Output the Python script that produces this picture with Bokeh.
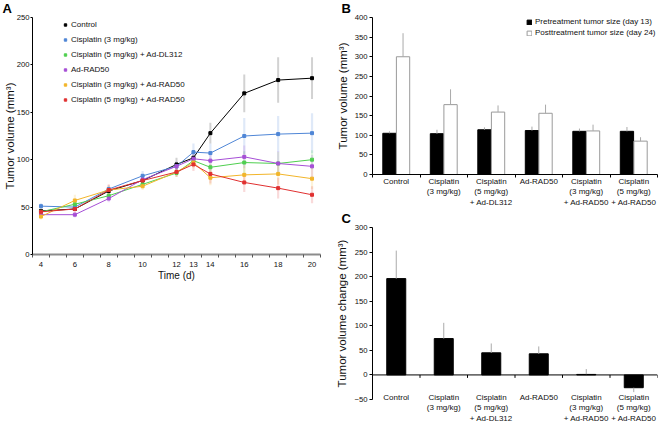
from bokeh.plotting import figure
from bokeh.models import (Range1d, FixedTicker, Legend, LegendItem, Span)
from bokeh.layouts import row, column
from bokeh.embed import file_html
from bokeh.resources import INLINE

FONT = "Liberation Sans"

# ---------------- Panel A data ----------------
days = [4, 6, 8, 10, 12, 13, 14, 16, 18, 20]
day_ticks_minor = [3.5 + i for i in range(18)]

series_names = ["Control", "Cisplatin (3 mg/kg)", "Cisplatin (5 mg/kg) + Ad-DL312",
                "Ad-RAD50", "Cisplatin (3 mg/kg) + Ad-RAD50", "Cisplatin (5 mg/kg) + Ad-RAD50"]
series_colors = ["#000000", "#4f86d6", "#4fcf4f", "#a64fd6", "#f2b52a", "#e03030"]

control = [46, 48, 67, 78, 95, 102, 128, 170, 184, 186]
control_err = [2, 2, 3, 4, 7, 6, 11, 20, 24, 22]
cis3 = [51, 50, 69, 83, 93, 108, 107, 125, 127, 128]
cis3_err = [3, 3, 4, 5, 5, 9, 10, 19, 19, 21]
cis5_dl312 = [45, 53, 62, 74, 86, 99, 92, 97, 96, 100]
cis5_dl312_err = [3, 4, 4, 4, 4, 5, 6, 12, 12, 10]
rad50 = [42, 42, 59, 79, 93, 101, 99, 103, 96, 93]
rad50_err = [3, 3, 4, 4, 4, 5, 7, 12, 13, 12]
cis3_rad50 = [40, 57, 68, 72, 87, 97, 81, 84, 85, 80]
cis3_rad50_err = [3, 6, 5, 4, 5, 6, 8, 10, 11, 11]
cis5_rad50 = [45, 48, 68, 78, 87, 95, 85, 76, 70, 63]
cis5_rad50_err = [3, 4, 6, 5, 5, 7, 10, 10, 11, 9]

series_values = [control, cis3, cis5_dl312, rad50, cis3_rad50, cis5_rad50]
series_errors = [control_err, cis3_err, cis5_dl312_err, rad50_err, cis3_rad50_err, cis5_rad50_err]

# ---------------- Panel B / C data ----------------
groups = ["Control", "Cisplatin\n(3 mg/kg)", "Cisplatin\n(5 mg/kg)\n+ Ad-DL312",
          "Ad-RAD50", "Cisplatin\n(3 mg/kg)\n+ Ad-RAD50", "Cisplatin\n(5 mg/kg)\n+ Ad-RAD50"]
pre_volume = [105, 104, 114, 112, 110, 110]
pre_err = [5, 10, 6, 10, 7, 11]
post_volume = [300, 178, 159, 156, 111, 85]
post_err = [60, 39, 17, 22, 16, 10]

volume_change = [196, 74, 45, 43, 1, -26]
change_err = [57, 32, 19, 15, 11, 9]

TICK_FS = "7.7px"
CAT_FS = "8px"
LEG_FS = "8px"
AX_FS = "10px"
YAX_FS = "11.5px"


def style_axes(p):
    for ax in (p.xaxis[0], p.yaxis[0]):
        ax.major_label_text_font = FONT
        ax.major_label_text_font_size = TICK_FS
        ax.major_label_text_color = "#111111"
        ax.axis_label_text_font = FONT
        ax.axis_label_text_font_size = AX_FS
        ax.axis_label_text_font_style = "normal"
        ax.axis_label_text_color = "#111111"
    p.yaxis[0].axis_label_text_font_size = YAX_FS
    p.grid.visible = False
    p.outline_line_color = None
    p.background_fill_color = "white"
    p.border_fill_color = "white"


def panel_letter(p, letter, offset):
    p.title.text = letter
    p.title.align = "left"
    p.title.offset = offset
    p.title.standoff = 0
    p.title.vertical_align = "top"
    p.title.text_font = FONT
    p.title.text_font_size = "13px"
    p.title.text_font_style = "bold"
    p.title.text_color = "black"


# ================= Panel A =================
pA = figure(width=326, height=300, x_range=Range1d(3.5, 20.5), y_range=Range1d(0, 250),
            output_backend="svg", toolbar_location=None,
            min_border_left=32, min_border_right=6, min_border_top=15, min_border_bottom=46)
style_axes(pA)
panel_letter(pA, "A", -30)

legend_items = []
for name, col, vals, errs in zip(series_names, series_colors, series_values, series_errors):
    lo = [v - e for v, e in zip(vals, errs)]
    hi = [v + e for v, e in zip(vals, errs)]
    if col == "#000000":
        pA.segment(x0=days, y0=lo, x1=days, y1=hi, line_color="#d2d2d2", line_width=2)
    else:
        pA.segment(x0=days, y0=lo, x1=days, y1=hi, line_color=col, line_alpha=0.18, line_width=2.2)
for name, col, vals in zip(series_names, series_colors, series_values):
    pA.line(days, vals, line_color=col, line_width=1)
    r = pA.scatter(days, vals, marker="square", size=3, fill_color=col, line_color=col)
    legend_items.append(LegendItem(label=name, renderers=[r]))

legA = Legend(items=legend_items, location=(30, 149), padding=0, margin=0, spacing=4,
              glyph_width=6, glyph_height=11, label_height=11, label_standoff=3,
              label_text_font=FONT, label_text_font_size=LEG_FS, label_text_color="#111111",
              border_line_color=None, background_fill_alpha=0)
pA.add_layout(legA)

pA.xaxis.ticker = FixedTicker(ticks=days, minor_ticks=day_ticks_minor)
pA.xaxis.major_tick_out = 0
pA.xaxis.major_tick_in = 0
pA.xaxis.minor_tick_out = 3
pA.xaxis.minor_tick_in = 0
pA.xaxis.axis_line_color = "#8c8c8c"
pA.xaxis.axis_line_width = 2
pA.xaxis.minor_tick_line_color = "#555555"
pA.xaxis.major_label_standoff = 4
pA.xaxis.axis_label = "Time (d)"
pA.xaxis.axis_label_standoff = 0

pA.yaxis.ticker = FixedTicker(ticks=[0, 50, 100, 150, 200, 250], minor_ticks=[])
pA.yaxis.major_tick_out = 2
pA.yaxis.major_tick_in = 0
pA.yaxis.major_label_standoff = 1
pA.yaxis.axis_label = "Tumor volume (mm\u00b3)"
pA.yaxis.axis_label_standoff = -2
pA.yaxis.axis_line_color = "black"

# ================= Panel B =================
ncat = len(groups)
centers = list(range(ncat))
bounds = [c - 0.5 for c in centers] + [ncat - 0.5]
x_pre = [c - 0.143 for c in centers]
x_post = [c + 0.143 for c in centers]

pB = figure(width=338, height=210, x_range=Range1d(-0.5, ncat - 0.5), y_range=Range1d(0, 400),
            output_backend="svg", toolbar_location=None,
            min_border_left=46, min_border_right=7, min_border_top=15, min_border_bottom=33)
style_axes(pB)
panel_letter(pB, "B", -31)

rb_pre = pB.vbar(x=x_pre, top=pre_volume, width=0.28, fill_color="black", line_color="black")
rb_post = pB.vbar(x=x_post, top=post_volume, width=0.28, fill_color="white", line_color="#9a9a9a")
pB.segment(x0=x_pre, y0=pre_volume, x1=x_pre,
           y1=[v + e for v, e in zip(pre_volume, pre_err)], line_color="#aaaaaa", line_width=1)
pB.segment(x0=x_post, y0=post_volume, x1=x_post,
           y1=[v + e for v, e in zip(post_volume, post_err)], line_color="#aaaaaa", line_width=1)

legB = Legend(items=[LegendItem(label="Pretreatment tumor size (day 13)", renderers=[rb_pre]),
                     LegendItem(label="Posttreatment tumor size (day 24)", renderers=[rb_post])],
              location=(154, 137), padding=0, margin=0, spacing=2,
              glyph_width=6, glyph_height=6, label_height=9, label_standoff=3,
              label_text_font=FONT, label_text_font_size=LEG_FS, label_text_color="#111111",
              border_line_color=None, background_fill_alpha=0)
pB.add_layout(legB)

pB.xaxis.ticker = FixedTicker(ticks=centers, minor_ticks=bounds)
pB.xaxis.major_label_overrides = {c: g for c, g in zip(centers, groups)}
pB.xaxis.major_label_text_font_size = CAT_FS
pB.xaxis.major_label_text_line_height = 1.2
pB.xaxis.major_tick_out = 0
pB.xaxis.major_tick_in = 0
pB.xaxis.minor_tick_out = 3
pB.xaxis.minor_tick_in = 0
pB.xaxis.major_label_standoff = -1
pB.xaxis.axis_line_color = "black"

pB.yaxis.ticker = FixedTicker(ticks=list(range(0, 401, 50)), minor_ticks=[])
pB.yaxis.major_tick_out = 3
pB.yaxis.major_tick_in = 0
pB.yaxis.major_label_standoff = 2
pB.yaxis.axis_label = "Tumor volume (mm\u00b3)"
pB.yaxis.axis_label_standoff = 3

# ================= Panel C =================
pC = figure(width=338, height=216, x_range=Range1d(-0.5, ncat - 0.5), y_range=Range1d(-50, 300),
            output_backend="svg", toolbar_location=None,
            min_border_left=46, min_border_right=7, min_border_top=17, min_border_bottom=25)
style_axes(pC)
panel_letter(pC, "C", -31)

pC.add_layout(Span(location=0, dimension="width", line_color="black", line_width=1))
pC.segment(x0=bounds, y0=[0] * len(bounds), x1=bounds, y1=[-6] * len(bounds),
           line_color="black", line_width=1)
pC.vbar(x=centers, top=volume_change, width=0.4, fill_color="black", line_color="black")
err_end = [v + e if v >= 0 else v - e for v, e in zip(volume_change, change_err)]
pC.segment(x0=centers, y0=volume_change, x1=centers, y1=err_end, line_color="#aaaaaa", line_width=1)

pC.xaxis.ticker = FixedTicker(ticks=centers, minor_ticks=[])
pC.xaxis.major_label_overrides = {c: g for c, g in zip(centers, groups)}
pC.xaxis.major_label_text_font_size = CAT_FS
pC.xaxis.major_label_text_line_height = 1.2
pC.xaxis.major_tick_out = 0
pC.xaxis.major_tick_in = 0
pC.xaxis.major_label_standoff = -7
pC.xaxis.axis_line_color = None

pC.yaxis.ticker = FixedTicker(ticks=list(range(-50, 301, 50)), minor_ticks=[])
pC.yaxis.major_label_overrides = {-50: "\u221250"}
pC.yaxis.major_tick_out = 3
pC.yaxis.major_tick_in = 0
pC.yaxis.major_label_standoff = 2
pC.yaxis.axis_label = "Tumor volume change (mm\u00b3)"
pC.yaxis.axis_label_standoff = 3

layout = row(pA, column(pB, pC))

open("out.html", "w").write(file_html(layout, INLINE))
